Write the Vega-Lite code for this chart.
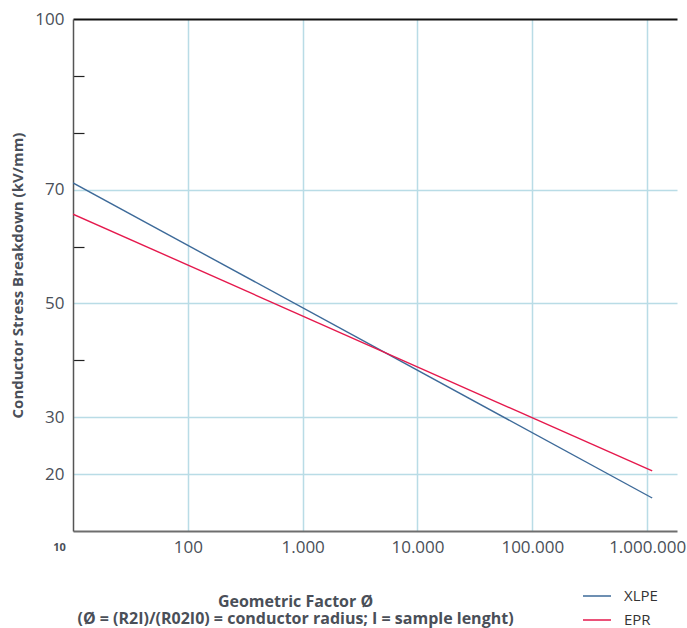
{
  "$schema": "https://vega.github.io/schema/vega-lite/v6.json",
  "width": 604,
  "height": 512,
  "autosize": {"type": "none"},
  "padding": {"left": 73, "top": 19, "right": 10, "bottom": 97},
  "background": "white",
  "config": {
    "view": {"stroke": null},
    "font": "Open Sans"
  },
  "data": {
    "values": [
      {"factor": 10, "stress": 71.2, "material": "XLPE"},
      {"factor": 1107000, "stress": 15.8, "material": "XLPE"},
      {"factor": 10, "stress": 65.7, "material": "EPR"},
      {"factor": 1107000, "stress": 20.55, "material": "EPR"}
    ]
  },
  "mark": {"type": "line", "strokeWidth": 1.4, "clip": true},
  "encoding": {
    "x": {
      "field": "factor",
      "type": "quantitative",
      "scale": {"type": "log", "domain": [10, 1820000], "nice": false},
      "axis": {
        "values": [10, 100, 1000, 10000, 100000, 1000000],
        "labelExpr": "datum.value == 10 ? '10' : datum.value == 100 ? '100' : datum.value == 1000 ? '1.000' : datum.value == 10000 ? '10.000' : datum.value == 100000 ? '100.000' : '1.000.000'",
        "ticks": false,
        "domainColor": "#6e6e6e",
        "domainWidth": 2,
        "grid": true,
        "gridColor": "#b9dce6",
        "gridWidth": 1.5,
        "gridOpacity": {"condition": {"test": "datum.value == 10", "value": 0}, "value": 1},
        "labelFontSize": {"condition": {"test": "datum.value == 10", "value": 11}, "value": 17},
        "labelFontWeight": {"condition": {"test": "datum.value == 10", "value": "bold"}, "value": "normal"},
        "labelOffset": {"condition": {"test": "datum.value == 10", "value": -14}, "value": 0},
        "labelPadding": {"condition": {"test": "datum.value == 10", "value": 10}, "value": 8},
        "labelColor": "#4a4f58",
        "labelBaseline": "top",
        "labelFlush": false,
        "title": ["Geometric Factor Ø", "(Ø = (R2I)/(R02I0) = conductor radius; I = sample lenght)"],
        "titleFontSize": 16,
        "titleFontWeight": "bold",
        "titleColor": "#4a4f58",
        "titleX": 222,
        "titleY": 62,
        "titleAnchor": "middle",
        "titleBaseline": "top",
        "titleLineHeight": 17.5
      }
    },
    "y": {
      "field": "stress",
      "type": "quantitative",
      "scale": {"domain": [10, 100], "nice": false, "zero": false},
      "axis": {
        "values": [10, 20, 30, 40, 50, 60, 70, 80, 90, 100],
        "labelExpr": "indexof([20, 30, 50, 70, 100], datum.value) >= 0 ? datum.label : ''",
        "ticks": true,
        "tickSize": -11,
        "tickColor": "#222222",
        "tickWidth": 1.2,
        "tickOpacity": {"condition": {"test": "indexof([40, 60, 80, 90], datum.value) >= 0", "value": 1}, "value": 0},
        "domainColor": "#555555",
        "domainWidth": 1.5,
        "grid": true,
        "gridColor": {"condition": {"test": "datum.value == 100", "value": "#111111"}, "value": "#b9dce6"},
        "gridWidth": {"condition": {"test": "datum.value == 100", "value": 1.8}, "value": 1.5},
        "gridOpacity": {"condition": {"test": "indexof([20, 30, 50, 70, 100], datum.value) >= 0", "value": 1}, "value": 0},
        "labelFontSize": 17,
        "labelColor": "#4a4f58",
        "labelPadding": 20,
        "title": "Conductor Stress Breakdown (kV/mm)",
        "titleFontSize": 15,
        "titleFontWeight": "bold",
        "titleColor": "#4a4f58",
        "titlePadding": 9
      }
    },
    "color": {
      "field": "material",
      "type": "nominal",
      "scale": {"domain": ["XLPE", "EPR"], "range": ["#3d6a99", "#e5194d"]},
      "legend": {
        "orient": "none",
        "legendX": 516,
        "legendY": 569,
        "title": null,
        "symbolType": "M-2,0L2,0",
        "symbolSize": 196,
        "symbolStrokeWidth": 1.5,
        "labelFontSize": 15,
        "labelColor": "#333333",
        "labelOffset": 19,
        "rowPadding": 8,
        "padding": 0
      }
    }
  }
}
